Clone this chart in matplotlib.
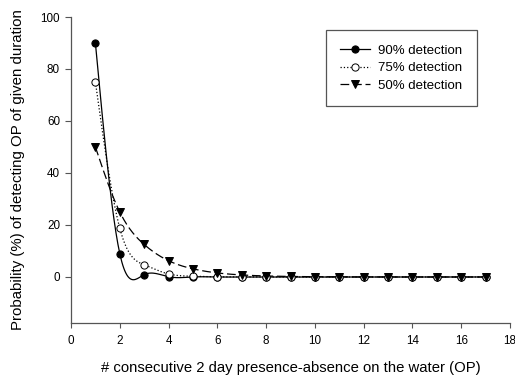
import numpy as np
import matplotlib.pyplot as plt

plt.rcParams['font.family'] = ['Liberation Sans', 'DejaVu Sans']

op = [1, 2, 3, 4, 5, 6, 7, 8, 9, 10, 11, 12, 13, 14, 15, 16, 17]
det90 = [90, 9, 0.9, 0.09, 0.009, 0.001, 0, 0, 0, 0, 0, 0, 0, 0, 0, 0, 0]
det75 = [75, 18.75, 4.69, 1.17, 0.29, 0.07, 0.02, 0, 0, 0, 0, 0, 0, 0, 0, 0, 0]
det50 = [50, 25, 12.5, 6.25, 3.13, 1.56, 0.78, 0.39, 0.2, 0.1, 0.05, 0.02, 0.01, 0, 0, 0, 0]


def spline(x, y, n=400):
	# natural cubic spline through the points, only for drawing the curve
	x = np.asarray(x, float); y = np.asarray(y, float)
	k = len(x); h = np.diff(x)
	A = np.zeros((k, k)); b = np.zeros(k)
	A[0, 0] = 1; A[-1, -1] = 1
	for i in range(1, k - 1):
		A[i, i - 1] = h[i - 1]; A[i, i] = 2 * (h[i - 1] + h[i]); A[i, i + 1] = h[i]
		b[i] = 6 * ((y[i + 1] - y[i]) / h[i] - (y[i] - y[i - 1]) / h[i - 1])
	M = np.linalg.solve(A, b)
	xs = np.linspace(x[0], x[-1], n)
	j = np.clip(np.searchsorted(x, xs) - 1, 0, k - 2)
	t1 = x[j + 1] - xs; t0 = xs - x[j]
	ys = (M[j] * t1**3 + M[j + 1] * t0**3) / (6 * h[j]) \
		+ (y[j] / h[j] - M[j] * h[j] / 6) * t1 + (y[j + 1] / h[j] - M[j + 1] * h[j] / 6) * t0
	return xs, ys


fig = plt.figure(figsize=(5.15, 3.79), dpi=100)
ax = fig.add_axes([71 / 515, 1 - 323 / 379, 439 / 515, 306 / 379])

series = [
	(det90, '90% detection', '-', dict(marker='o', mfc='black', mec='black')),
	(det75, '75% detection', ':', dict(marker='o', mfc='white', mec='black')),
	(det50, '50% detection', (0, (7, 3)), dict(marker='v', mfc='black', mec='black')),
]
for vals, name, ls, mk in series:
	xs, ys = spline(op, vals)
	ax.plot(xs, ys, color='black', ls=ls, lw=0.9, zorder=2)
	ax.plot(op, vals, ls='none', ms=5.2, mew=0.7, zorder=3, **mk)
	ax.plot([], [], color='black', ls=ls, lw=0.9, ms=5.2, mew=0.7, label=name, **mk)

ax.set_xlim(0, 18)
ax.set_ylim(-17.7, 100)
ax.set_xticks(range(0, 19, 2))
ax.set_yticks(range(0, 101, 20))
for s in ['top', 'right']:
	ax.spines[s].set_visible(False)
for s in ['left', 'bottom']:
	ax.spines[s].set_color('#555555')
	ax.spines[s].set_linewidth(0.9)
ax.tick_params(direction='out', color='#555555', labelsize=8.4)
ax.tick_params(axis='x', length=3.5, pad=5.5)
ax.tick_params(axis='y', length=4, pad=4)
ax.set_xlabel('# consecutive 2 day presence-absence on the water (OP)', fontsize=10.7, labelpad=10)
ax.set_ylabel('Probability (%) of detecting OP of given duration', fontsize=10.8, labelpad=11)

leg = ax.legend(loc='upper right', bbox_to_anchor=(477 / 515, 1 - 30 / 379), bbox_transform=fig.transFigure,
	borderaxespad=0, fancybox=False, edgecolor='#555555', fontsize=9.5, handlelength=2.3,
	handletextpad=0.6, borderpad=1.1, labelspacing=0.4, framealpha=1)
leg.get_frame().set_linewidth(0.9)

fig.savefig('out.png', dpi=100)
